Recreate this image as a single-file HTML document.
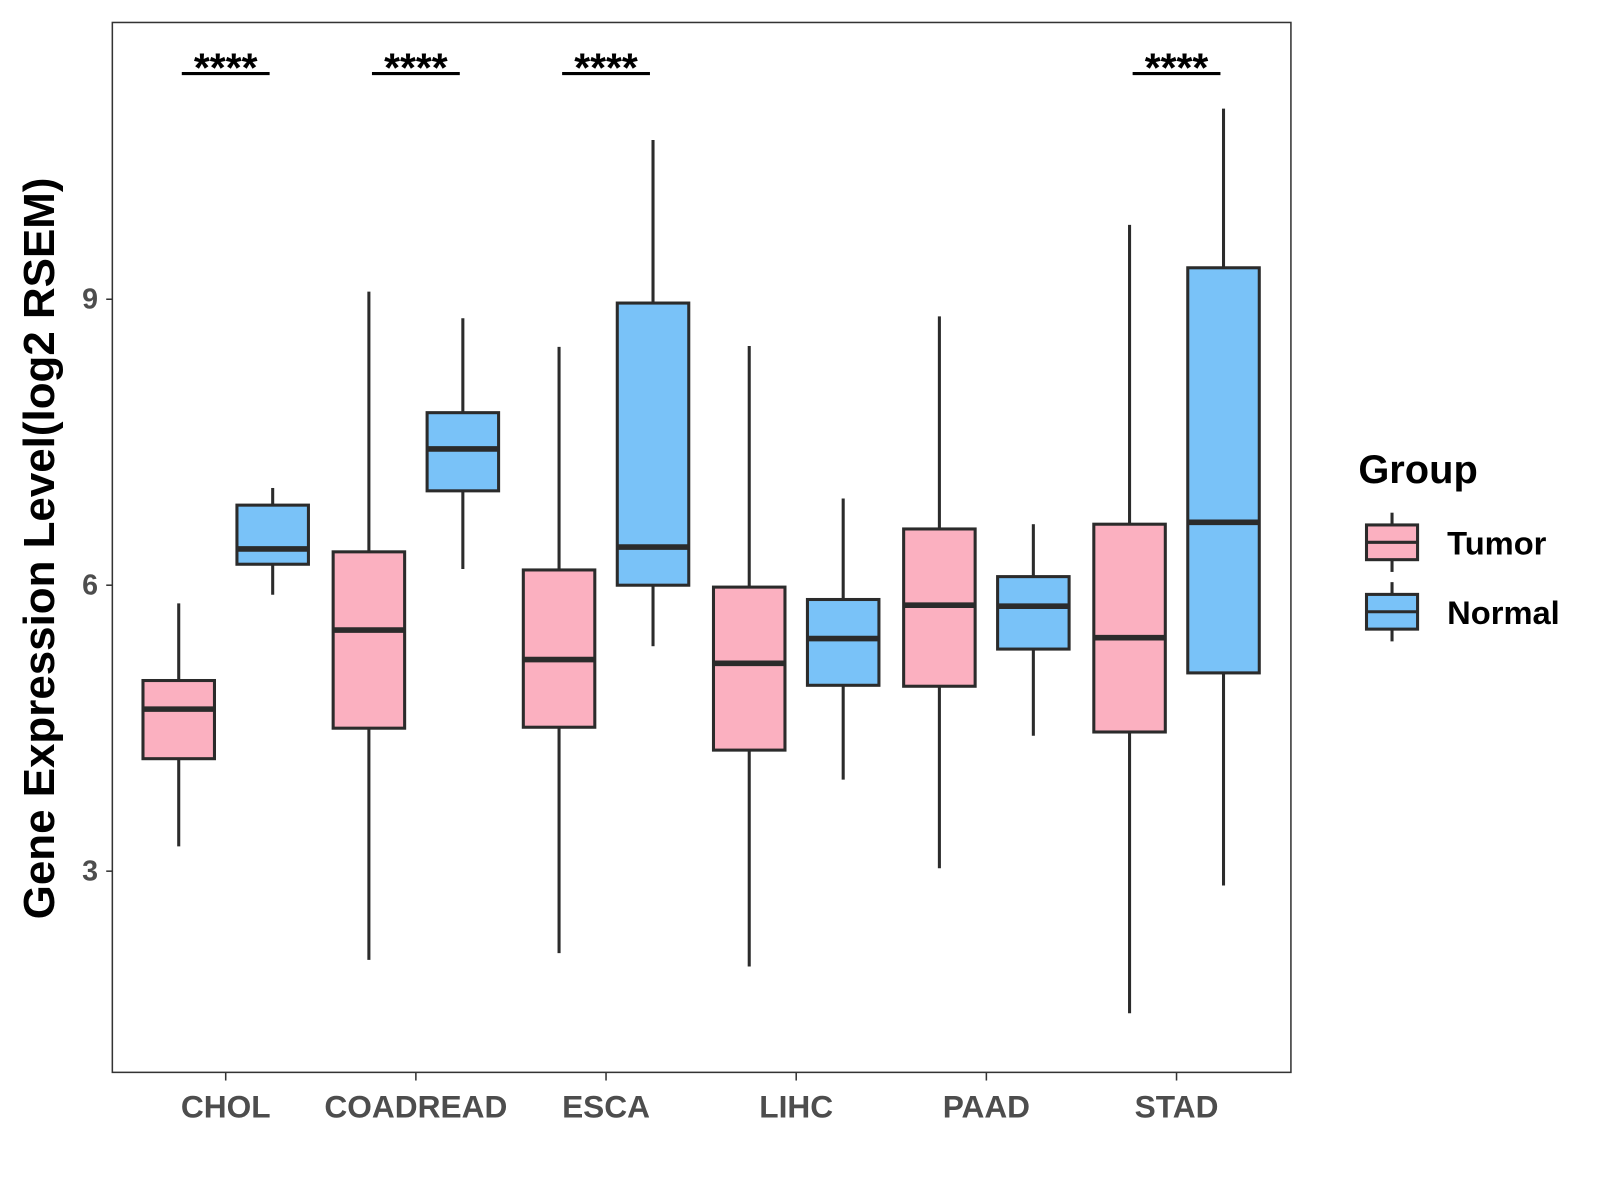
<!DOCTYPE html>
<html><head><meta charset="utf-8"><style>
html,body{margin:0;padding:0;background:#fff;}
svg{display:block;font-family:"Liberation Sans",Arial,sans-serif;}
</style></head><body>
<svg id="chart" width="1600" height="1200" viewBox="0 0 1600 1200">
<rect x="0" y="0" width="1600" height="1200" fill="#fff"/>
<g transform="scale(1.0213)">
<g id="plot"></g>
<rect x="110" y="22" width="1154" height="1028" fill="none" stroke="#333" stroke-width="1.5"/>
<text x="0" y="0" transform="translate(53,537) rotate(-90)" text-anchor="middle" font-size="43" font-weight="bold" fill="#000">Gene Expression Level(log2 RSEM)</text>
<g>
<text x="1330" y="473" font-size="39" font-weight="bold" fill="#000">Group</text>
<g>
<line x1="1363" y1="502" x2="1363" y2="560" stroke="#2b2b2b" stroke-width="3"/>
<rect x="1338" y="514" width="50" height="34" fill="#FBB0C0" stroke="#2b2b2b" stroke-width="3"/>
<line x1="1338" y1="531" x2="1388" y2="531" stroke="#2b2b2b" stroke-width="3"/>
<text x="1417" y="543" font-size="32" font-weight="bold" fill="#000">Tumor</text>
</g>
<g>
<line x1="1363" y1="570" x2="1363" y2="628" stroke="#2b2b2b" stroke-width="3"/>
<rect x="1338" y="582" width="50" height="34" fill="#79C2F8" stroke="#2b2b2b" stroke-width="3"/>
<line x1="1338" y1="599" x2="1388" y2="599" stroke="#2b2b2b" stroke-width="3"/>
<text x="1417" y="611" font-size="32" font-weight="bold" fill="#000">Normal</text>
</g>
</g>
</g>
</svg>
<script>
const categories=["CHOL","COADREAD","ESCA","LIHC","PAAD","STAD"];
const tumorMin=[3.26,2.07,2.14,2.0,3.03,1.51];
const tumorQ1=[4.18,4.50,4.51,4.27,4.94,4.46];
const tumorMed=[4.70,5.53,5.22,5.18,5.79,5.45];
const tumorQ3=[5.0,6.35,6.16,5.98,6.59,6.64];
const tumorMax=[5.81,9.08,8.50,8.51,8.82,9.78];
const normalMin=[5.90,6.17,5.36,3.96,4.42,2.85];
const normalQ1=[6.22,6.99,6.0,4.95,5.33,5.08];
const normalMed=[6.38,7.43,6.40,5.44,5.78,6.66];
const normalQ3=[6.84,7.81,8.96,5.85,6.09,9.33];
const normalMax=[7.02,8.80,10.67,6.91,6.64,11.0];
const significance=["****","****","****","","","****"];
const yTicks=[3,6,9];

const NS="http://www.w3.org/2000/svg";
const g=document.getElementById("plot");
function y(v){return 573-(v-6)*93.333;}
function x(i){return 221+i*186.2;}
function el(t,a,p){const e=document.createElementNS(NS,t);for(const k in a)e.setAttribute(k,a[k]);(p||g).appendChild(e);return e;}

yTicks.forEach(t=>{
  const tk=el("line",{x1:104,x2:110,y1:y(t),y2:y(t),stroke:"#333","stroke-width":1.5});
  
  
  const tl=el("text",{x:96,y:y(t)+9,"text-anchor":"end","font-size":28,"font-weight":"bold",fill:"#4d4d4d"});
  tl.textContent=t;
  
  
});

function box(cx,mn,q1,md,q3,mx,fill,name){
  const bg=el("g",{});
  
  
  el("line",{x1:cx,x2:cx,y1:y(mx),y2:y(q3),stroke:"#2b2b2b","stroke-width":3},bg);
  el("line",{x1:cx,x2:cx,y1:y(q1),y2:y(mn),stroke:"#2b2b2b","stroke-width":3},bg);
  el("rect",{x:cx-35,y:y(q3),width:70,height:y(q1)-y(q3),fill:fill,stroke:"#2b2b2b","stroke-width":3},bg);
  el("line",{x1:cx-35,x2:cx+35,y1:y(md),y2:y(md),stroke:"#2b2b2b","stroke-width":5.5},bg);
}

categories.forEach((c,i)=>{
  const cx=x(i);
  box(cx-46,tumorMin[i],tumorQ1[i],tumorMed[i],tumorQ3[i],tumorMax[i],"#FBB0C0","box-tumor-"+c.toLowerCase());
  box(cx+46,normalMin[i],normalQ1[i],normalMed[i],normalQ3[i],normalMax[i],"#79C2F8","box-normal-"+c.toLowerCase());
  const tk=el("line",{x1:cx,x2:cx,y1:1050,y2:1058,stroke:"#333","stroke-width":1.5});
  
  
  const tl=el("text",{x:cx,y:1094,"text-anchor":"middle","font-size":31,"font-weight":"bold",fill:"#4d4d4d"});
  tl.textContent=c;
  
  
  if(significance[i]){
    const sg=el("g",{});
    
    
    el("line",{x1:cx-43,x2:cx+43,y1:72,y2:72,stroke:"#000","stroke-width":3},sg);
    const st=el("text",{x:cx,y:80,"text-anchor":"middle","font-size":40,"font-weight":"bold",fill:"#000"},sg);
    st.textContent=significance[i];
  }
});
</script>
</body></html>
